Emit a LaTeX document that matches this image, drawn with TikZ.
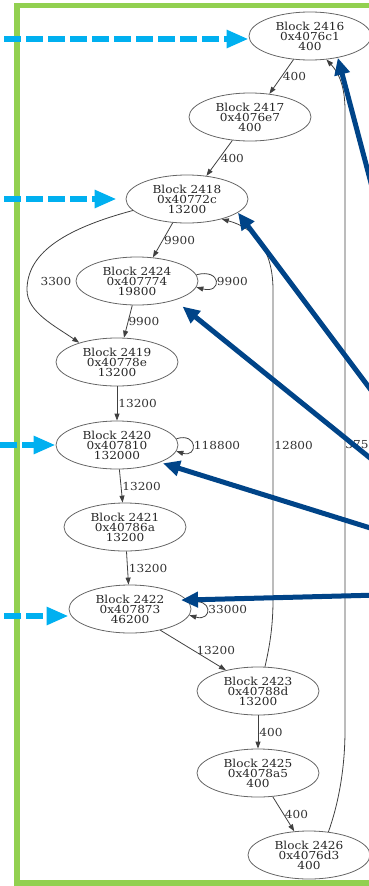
\documentclass[tikz,border=0pt]{standalone}
\usepackage{fontspec}
\newfontfamily\gvfont[FakeStretch=1.1]{DejaVu Serif}
\usetikzlibrary{arrows.meta,shapes.geometric}
\definecolor{frameg}{RGB}{146,208,80}
\definecolor{entryblue}{RGB}{0,176,240}
\definecolor{hotnavy}{RGB}{0,68,136}

\begin{document}
\begin{tikzpicture}[x=1pt, y=-1pt,
    blk/.style={ellipse, draw=black!60, line width=0.8pt, minimum width=122pt, minimum height=48pt,
        inner sep=0pt, align=center, font=\gvfont\fontsize{11}{10}\selectfont, text=black!85},
    cfg/.style={draw=black!75, line width=0.8pt, -{Triangle[length=7pt,width=5pt]}},
    elab/.style={font=\gvfont\fontsize{11}{10}\selectfont, text=black!80, inner sep=1pt},
    entryarr/.style={draw=entryblue, line width=6pt, dash pattern=on 17pt off 5pt,
        -{Triangle[length=22pt,width=17pt]}},
    hotarr/.style={draw=hotnavy, line width=5pt, -{Triangle[length=17pt,width=15pt]}}]
    \useasboundingbox (0,0) rectangle (369,886);
    
    \draw[frameg, line width=5.5pt] (17,5.5) rectangle (390,883);
    
    \node[blk] (b2416) at (310,36) {Block 2416\\0x4076c1\\400};
    \node[blk] (b2417) at (250,117) {Block 2417\\0x4076e7\\400};
    \node[blk] (b2418) at (187,199) {Block 2418\\0x40772c\\13200};
    \node[blk] (b2424) at (137,281) {Block 2424\\0x407774\\19800};
    \node[blk] (b2419) at (117,362) {Block 2419\\0x40778e\\13200};
    \node[blk] (b2420) at (117,445) {Block 2420\\0x407810\\132000};
    \node[blk] (b2421) at (125,527) {Block 2421\\0x40786a\\13200};
    \node[blk] (b2422) at (130,609) {Block 2422\\0x407873\\46200};
    \node[blk] (b2423) at (258,691) {Block 2423\\0x40788d\\13200};
    \node[blk] (b2425) at (258,773) {Block 2425\\0x4078a5\\400};
    \node[blk] (b2426) at (309,855) {Block 2426\\0x4076d3\\400};
    
    \draw[cfg] (b2416.-125) -- (b2417.50) node[elab, midway, right] {400};
    \draw[cfg] (b2417.-127) -- (b2418.50) node[elab, midway, right] {400};
    \draw[cfg] (b2418.-121) -- (b2424.56) node[elab, midway, right] {9900};
    \draw[cfg] (b2418.-168) .. controls (60,230) and (27,255) .. (27,290)
        .. controls (27,312) and (55,326) .. (b2419.153);
    \node[elab] (l3300) at (56,281) {3300};
    \draw[cfg] (b2424.6) .. controls (222,268) and (222,294) .. (b2424.-6) node[elab, pos=.5, right] {9900};
    \draw[cfg] (b2424.-101) -- (b2419.74) node[elab, midway, right, inner sep=0pt] {9900};
    \draw[cfg] (b2419) -- (b2420) node[elab, midway, right] {13200};
    \draw[cfg] (b2420.6) .. controls (198,432) and (198,458) .. (b2420.-6) node[elab, pos=.5, right] {118800};
    \draw[cfg] (b2420) -- (b2421) node[elab, midway, right] {13200};
    \draw[cfg] (b2421) -- (b2422) node[elab, midway, right] {13200};
    \draw[cfg] (b2422.6) .. controls (213,596) and (213,622) .. (b2422.-6) node[elab, pos=.5, right] {33000};
    \draw[cfg] (b2422.-35) -- (b2423.147) node[elab, midway, right, xshift=2pt] {13200};
    \draw[cfg] (b2423.74) .. controls (270,645) and (273,625) .. (273,600)
        -- (273,290) node[elab, midway, right] {12800}
        .. controls (273,250) and (255,228) .. (b2418.-30);
    \draw[cfg] (b2423) -- (b2425) node[elab, midway, right] {400};
    \draw[cfg] (b2425) -- (b2426) node[elab, midway, right] {400};
    \draw[cfg] (b2426.50) .. controls (338,805) and (345,770) .. (345,730)
        -- (345,110) node[elab, pos=.46, right, inner sep=0pt] {375}
        .. controls (345,85) and (338,72) .. (b2416.-55);
    
    % entry points
    \coordinate (in1) at (4,39);
    \coordinate (in2) at (4,199);
    \coordinate (in3) at (0,445);
    \coordinate (in4) at (4,616);
    \draw[entryarr] (in1) -- (in1 -| b2416.west);
    \draw[entryarr] (in2) -- ([xshift=-9pt]b2418.west);
    \draw[entryarr] (in3) -- (b2420.west);
    \draw[entryarr] (in4) -- (in4 -| b2422.west);
    
    % hot blocks
    \coordinate (h1) at (380,217);
    \coordinate (h2) at (380,402);
    \coordinate (h3) at (380,466);
    \coordinate (h4) at (380,531);
    \coordinate (h5) at (380,595);
    \draw[hotarr] (h1) -- (b2416.-38);
    \draw[hotarr] (h2) -- (b2418.-15.5);
    \draw[hotarr, shorten >=10pt] (h3) -- (b2424.-27);
    \draw[hotarr, shorten >=3pt] (h4) -- (b2420.-22);
    \draw[hotarr, shorten >=-6pt] (h5) -- (b2422.9);
\end{tikzpicture}
\end{document}
